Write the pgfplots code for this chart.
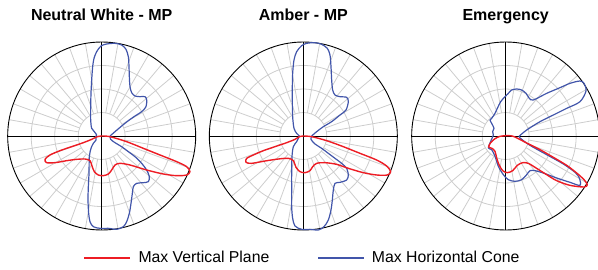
\documentclass[border=0pt]{standalone}
\usepackage{pgfplots}
\pgfplotsset{compat=1.18}
\usepackage{fontspec}
\setmainfont{Liberation Sans}
\definecolor{cred}{RGB}{237,28,36}
\definecolor{cblue}{RGB}{65,85,170}
\definecolor{cgrid}{RGB}{205,205,205}
\pgfplotsset{polstyle/.style={scale only axis, width=188pt, height=188pt, hide axis, clip=false, y dir=reverse, anchor=center},
 redc/.style={cred, line width=1.4pt, smooth, tension=0.5, line join=round},
 bluec/.style={cblue, line width=1.2pt, smooth, tension=0.5, line join=round}}
\newcommand{\polgrid}[2]{%
 \begin{scope}[shift={(#1pt,#2pt)}]
  \foreach \a in {0,10,...,350} \draw[cgrid, line width=0.8pt] (\a:23.5pt) -- (\a:94pt);
  \foreach \r in {23.5,47,70.5} \draw[cgrid, line width=0.8pt] (0,0) circle[radius=\r pt];
  \draw[black, line width=0.9pt] (0,0) circle[radius=94pt];
  \draw[black, line width=0.9pt] (-94pt,0) -- (94pt,0) (0,-94pt) -- (0,94pt);
 \end{scope}}
\begin{document}
\begin{tikzpicture}
\useasboundingbox (0,0) rectangle (598pt,269pt);
\polgrid{101.67}{133}
\polgrid{303.33}{133}
\polgrid{505.67}{133}

% Plot 1
\begin{axis}[polstyle, at={(101.67pt,133pt)}, xmin=23, xmax=587, ymin=126, ymax=690]
\addplot[bluec] coordinates {(330,408) (345,395) (365,378) (385,362) (405,348) (425,335) (438,320) (440,300) (435,290) (420,290) (405,288) (395,278) (390,260) (388,230) (387,200) (385,170) (378,148) (365,135) (345,130) (320,132) (303,138) (290,155) (282,175) (278,200) (275,240) (273,280) (272,320) (272,360) (275,385) (283,395) (290,405) (287,410) (288,420) (280,430) (273,445) (268,470) (267,520) (265,560) (264,600) (266,640) (270,665) (280,680) (300,685) (325,685) (350,688) (370,680) (380,665) (388,640) (393,610) (397,580) (400,560) (410,550) (430,548) (445,545) (448,530) (440,510) (425,490) (405,470) (385,455) (365,440) (345,428) (332,418) (330,408)};
\addplot[redc] coordinates {(305,408) (330,410) (380,425) (430,445) (480,465) (530,485) (560,500) (570,515) (560,525) (530,527) (490,522) (440,510) (390,495) (360,490) (345,495) (335,510) (325,522) (310,527) (295,525) (283,515) (276,498) (270,482) (255,477) (230,478) (200,482) (165,488) (140,488) (135,478) (150,465) (180,452) (215,440) (250,428) (275,418) (292,410) (305,408)};
\end{axis}

% Plot 2
\begin{axis}[polstyle, at={(303.33pt,133pt)}, xmin=28, xmax=592, ymin=126, ymax=690]
\addplot[bluec] coordinates {(335,408) (350,395) (370,380) (395,365) (420,345) (438,330) (445,305) (440,292) (420,290) (405,285) (398,270) (395,240) (393,200) (390,165) (382,145) (365,133) (345,128) (320,130) (305,137) (290,155) (282,180) (278,220) (277,260) (277,300) (278,350) (282,385) (290,400) (298,408) (295,415) (290,425) (280,440) (276,470) (275,520) (275,570) (275,620) (278,655) (285,678) (305,688) (330,688) (355,690) (372,680) (385,660) (393,630) (397,600) (400,570) (405,550) (420,547) (440,540) (445,525) (440,505) (425,490) (405,475) (385,460) (365,445) (345,432) (333,418) (335,408)};
\addplot[redc] coordinates {(310,408) (335,410) (380,422) (430,440) (480,460) (530,480) (560,498) (572,515) (562,525) (530,525) (490,518) (445,505) (410,493) (375,488) (350,490) (338,500) (330,512) (315,518) (300,515) (288,502) (280,482) (265,475) (235,477) (195,483) (155,490) (138,487) (140,475) (160,465) (190,452) (225,440) (260,428) (285,418) (298,410) (310,408)};
\end{axis}

% Plot 3
\begin{axis}[polstyle, at={(505.67pt,133pt)}, xmin=35, xmax=599, ymin=126, ymax=690]
\addplot[bluec] coordinates {(358,408) (380,390) (420,365) (460,345) (500,325) (540,305) (558,273) (552,250) (540,243) (510,250) (480,263) (440,280) (400,300) (388,295) (378,280) (365,270) (350,267) (335,270) (325,280) (315,290) (302,305) (292,325) (285,340) (275,355) (270,360) (275,370) (282,385) (278,395) (280,405) (272,424) (265,444) (275,449) (285,469) (295,499) (310,524) (325,539) (345,544) (365,539) (380,524) (390,512) (405,512) (430,519) (470,534) (510,547) (540,556) (538,534) (525,517) (490,492) (440,464) (390,436) (360,414) (358,408)};
\addplot[redc] coordinates {(317,407) (340,409) (380,429) (420,449) (460,472) (500,496) (530,519) (552,539) (562,554) (552,561) (510,556) (470,542) (440,524) (405,502) (385,490) (368,488) (352,496) (338,512) (322,518) (308,512) (297,494) (290,474) (285,454) (276,445) (266,441) (272,428) (285,416) (300,409) (317,407)};
\end{axis}

\node[font=\bfseries\fontsize{16}{19}\selectfont, anchor=base] at (101.67pt,248.3pt) {Neutral White - MP};
\node[font=\bfseries\fontsize{16}{19}\selectfont, anchor=base] at (303.33pt,248.3pt) {Amber - MP};
\node[font=\bfseries\fontsize{16}{19}\selectfont, anchor=base] at (505.67pt,248.3pt) {Emergency};

\draw[cred, line width=2pt] (84pt,11.3pt) -- (130pt,11.3pt);
\node[anchor=base west, inner sep=0pt, font=\fontsize{15.8}{18}\selectfont] at (138.3pt,6.3pt) {Max Vertical Plane};
\draw[cblue, line width=2pt] (318.3pt,11.3pt) -- (364pt,11.3pt);
\node[anchor=base west, inner sep=0pt, font=\fontsize{15.8}{18}\selectfont] at (371.7pt,6.3pt) {Max Horizontal Cone};
\end{tikzpicture}
\end{document}
